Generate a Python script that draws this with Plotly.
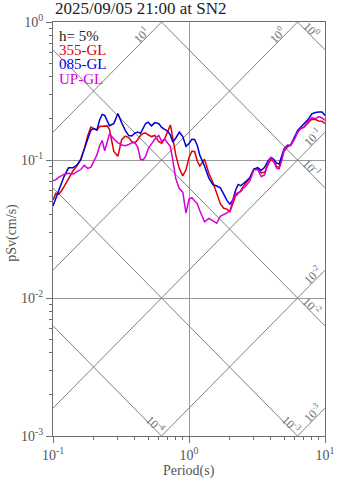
import math
import plotly.graph_objects as go

# Response spectrum, 2025/09/05 21:00 at SN2 (h = 5%)
periods = [0.10, 0.105, 0.11, 0.115, 0.12, 0.13, 0.14, 0.15, 0.16, 0.17, 0.18, 0.19,
           0.20, 0.21, 0.22, 0.23, 0.24, 0.25, 0.26, 0.28, 0.30, 0.32, 0.34, 0.36,
           0.38, 0.40, 0.42, 0.44, 0.46, 0.48, 0.50, 0.53, 0.56, 0.60, 0.63, 0.66,
           0.70, 0.73, 0.76, 0.80, 0.85, 0.90, 0.95, 1.00, 1.05, 1.10, 1.15, 1.20,
           1.30, 1.40, 1.50, 1.60, 1.70, 1.80, 1.90, 2.0, 2.1, 2.2, 2.3, 2.4, 2.5,
           2.6, 2.8, 3.0, 3.2, 3.4, 3.6, 3.8, 4.0, 4.2, 4.4, 4.6, 4.8, 5.0, 5.3,
           5.6, 6.0, 6.3, 6.6, 7.0, 7.5, 8.0, 8.5, 9.0, 9.5, 10.0]

sv_355 = [0.0513, 0.0575, 0.0566, 0.0594, 0.0635, 0.0737, 0.0832, 0.0906, 0.1017, 0.1206,
          0.1500, 0.1733, 0.1688, 0.1647, 0.1750, 0.1756, 0.1756, 0.1767, 0.1669, 0.1153,
          0.1063, 0.1409, 0.1490, 0.1452, 0.1359, 0.1332, 0.1402, 0.1509, 0.1560, 0.1570,
          0.1524, 0.1478, 0.1507, 0.1355, 0.1322, 0.1414, 0.1625, 0.1794, 0.1442, 0.1085,
          0.0863, 0.0767, 0.0850, 0.1040, 0.1157, 0.1152, 0.0984, 0.0903, 0.1013, 0.0801,
          0.0687, 0.0576, 0.0482, 0.0447, 0.0441, 0.0422, 0.0488, 0.0548, 0.0573, 0.0599,
          0.0642, 0.0677, 0.0738, 0.0861, 0.0864, 0.0807, 0.0816, 0.0921, 0.1010, 0.0972,
          0.0895, 0.0887, 0.1010, 0.1163, 0.1244, 0.1281, 0.1442, 0.1594, 0.1682, 0.1730,
          0.1856, 0.1973, 0.1967, 0.1919, 0.1909, 0.1835]

sv_085 = [0.0465, 0.0533, 0.0604, 0.0680, 0.0752, 0.0878, 0.0878, 0.0920, 0.1002, 0.1204,
          0.1423, 0.1650, 0.1688, 0.1644, 0.1941, 0.2138, 0.2107, 0.1938, 0.1770, 0.1835,
          0.2173, 0.1859, 0.1639, 0.1502, 0.1495, 0.1565, 0.1596, 0.1560, 0.1685, 0.1838,
          0.1881, 0.1767, 0.1866, 0.1832, 0.1724, 0.1677, 0.1609, 0.1514, 0.1348, 0.1444,
          0.1591, 0.1478, 0.1256, 0.1315, 0.1411, 0.1409, 0.1279, 0.1084, 0.0906, 0.0740,
          0.0663, 0.0648, 0.0628, 0.0566, 0.0510, 0.0479, 0.0514, 0.0604, 0.0665, 0.0651,
          0.0671, 0.0694, 0.0742, 0.0860, 0.0881, 0.0842, 0.0884, 0.0979, 0.1043, 0.1013,
          0.0946, 0.0937, 0.1066, 0.1202, 0.1279, 0.1286, 0.1485, 0.1639, 0.1719, 0.1823,
          0.1963, 0.2159, 0.2210, 0.2224, 0.2226, 0.2103]

sv_up = [0.0706, 0.0720, 0.0749, 0.0773, 0.0786, 0.0801, 0.0788, 0.0823, 0.0853, 0.0915,
         0.0870, 0.0887, 0.0980, 0.1084, 0.1264, 0.1384, 0.1167, 0.1355, 0.1544, 0.1423,
         0.1335, 0.1283, 0.1269, 0.1296, 0.1330, 0.1337, 0.1234, 0.1012, 0.1002, 0.1066,
         0.1202, 0.1309, 0.1411, 0.1505, 0.1361, 0.1421, 0.1302, 0.1250, 0.0997, 0.0730,
         0.0619, 0.0585, 0.0412, 0.0521, 0.0533, 0.0508, 0.0483, 0.0430, 0.0357, 0.0377,
         0.0360, 0.0348, 0.0391, 0.0401, 0.0414, 0.0428, 0.0514, 0.0568, 0.0582, 0.0590,
         0.0622, 0.0642, 0.0706, 0.0849, 0.0853, 0.0756, 0.0782, 0.0949, 0.1035, 0.0984,
         0.0874, 0.0863, 0.0985, 0.1184, 0.1256, 0.1275, 0.1442, 0.1594, 0.1682, 0.1730,
         0.1906, 0.2025, 0.1992, 0.2065, 0.2015, 0.1938]

series_names = ["355-GL", "085-GL", "UP-GL"]
series_colors = ["#e00000", "#0000d8", "#d800d8"]

# tripartite guide levels
accel_levels = [1e-4, 1e-3, 1e-2, 1e-1, 1e0, 1e1, 1e2]   # cm/s^2
disp_levels = [1e-5, 1e-4, 1e-3, 1e-2, 1e-1, 1e0, 1e1]   # cm

T_MIN, T_MAX = 0.1, 10.0
SV_MIN, SV_MAX = 1e-3, 1.0
TWO_PI = 2 * math.pi

FONT = "Liberation Serif, Times New Roman, serif"
GUIDE = "#808080"
AXIS = "#6e6e6e"

fig = go.Figure()
annotations = []


def exp_label(v):
    return "10<sup>%d</sup>" % int(round(math.log10(v)))


# constant pseudo-acceleration lines: Sv = A*T/(2*pi)
for a in accel_levels:
    t_lo = max(T_MIN, TWO_PI * SV_MIN / a)
    t_hi = min(T_MAX, TWO_PI * SV_MAX / a)
    if t_lo >= t_hi:
        continue
    fig.add_trace(go.Scatter(x=[t_lo, t_hi], y=[a * t_lo / TWO_PI, a * t_hi / TWO_PI],
                             mode="lines", line=dict(color=GUIDE, width=1),
                             hoverinfo="skip", showlegend=False))
    top_end = t_hi < T_MAX
    annotations.append(dict(
        x=math.log10(t_hi), y=math.log10(a * t_hi / TWO_PI), xref="x", yref="y",
        text=exp_label(a), showarrow=False, textangle=-45,
        xshift=-21 if top_end else -13, yshift=-13 if top_end else -5,
        font=dict(family=FONT, size=12, color="#707070")))

# constant displacement lines: Sv = 2*pi*D/T
for d in disp_levels:
    t_lo = max(T_MIN, TWO_PI * d / SV_MAX)
    t_hi = min(T_MAX, TWO_PI * d / SV_MIN)
    if t_lo >= t_hi:
        continue
    fig.add_trace(go.Scatter(x=[t_lo, t_hi], y=[TWO_PI * d / t_lo, TWO_PI * d / t_hi],
                             mode="lines", line=dict(color=GUIDE, width=1),
                             hoverinfo="skip", showlegend=False))
    bottom_end = t_hi < T_MAX
    annotations.append(dict(
        x=math.log10(t_hi), y=math.log10(TWO_PI * d / t_hi), xref="x", yref="y",
        text=exp_label(d), showarrow=False, textangle=45,
        xshift=-6 if bottom_end else -14, yshift=12 if bottom_end else 20,
        font=dict(family=FONT, size=12, color="#707070")))

# spectra
for name, vals, color in zip(series_names, [sv_355, sv_085, sv_up], series_colors):
    fig.add_trace(go.Scatter(x=periods, y=vals, mode="lines", name=name,
                             line=dict(color=color, width=1.5), showlegend=False))

# in-plot legend block
legend_rows = [("h= 5%", "#222222")] + list(zip(series_names, series_colors))
for i, (txt, col) in enumerate(legend_rows):
    annotations.append(dict(
        x=0.015, y=0.967 - i * 0.0345, xref="paper", yref="paper",
        xanchor="left", yanchor="middle", text=txt, showarrow=False,
        font=dict(family=FONT, size=15, color=col)))

# title and axis titles
annotations.append(dict(x=0, y=1.005, xref="paper", yref="paper", xanchor="left",
                        yanchor="bottom", text="2025/09/05 21:00 at SN2", showarrow=False,
                        font=dict(family=FONT, size=17, color="#222222")))
annotations.append(dict(x=0.5, y=-0.084, xref="paper", yref="paper", xanchor="center",
                        yanchor="middle", text="Period(s)", showarrow=False,
                        font=dict(family=FONT, size=14, color="#555555")))
annotations.append(dict(x=-0.152, y=0.49, xref="paper", yref="paper", xanchor="center",
                        yanchor="middle", text="pSv(cm/s)", showarrow=False, textangle=-90,
                        font=dict(family=FONT, size=14, color="#555555")))

x_minor = [m * 10 ** e for e in (-1, 0) for m in range(2, 10)]
y_minor = [m * 10 ** e for e in (-3, -2, -1) for m in range(2, 10)]

axis_common = dict(
    type="log", showline=True, linecolor=AXIS, linewidth=1, mirror=True,
    ticks="outside", ticklen=6, tickcolor=AXIS, tickwidth=1,
    showgrid=True, gridcolor="#9a9a9a", gridwidth=1, zeroline=False,
    tickfont=dict(family=FONT, size=14, color="#555555"),
)

fig.update_layout(
    width=347, height=478,
    margin=dict(l=53, r=14, t=15, b=42),
    paper_bgcolor="white", plot_bgcolor="white",
    showlegend=False,
    xaxis=dict(range=[-1, 1], tickvals=[0.1, 1, 10],
               ticktext=["10<sup>-1</sup>", "10<sup>0</sup>", "10<sup>1</sup>"],
               minor=dict(tickvals=x_minor, ticks="outside", ticklen=3,
                          tickcolor=AXIS, showgrid=False),
               **axis_common),
    yaxis=dict(range=[-3, 0], tickvals=[0.001, 0.01, 0.1, 1],
               ticktext=["10<sup>-3</sup>", "10<sup>-2</sup>", "10<sup>-1</sup>", "10<sup>0</sup>"],
               minor=dict(tickvals=y_minor, ticks="outside", ticklen=3,
                          tickcolor=AXIS, showgrid=False),
               **axis_common),
    annotations=annotations,
)

fig.write_html("out.html")
